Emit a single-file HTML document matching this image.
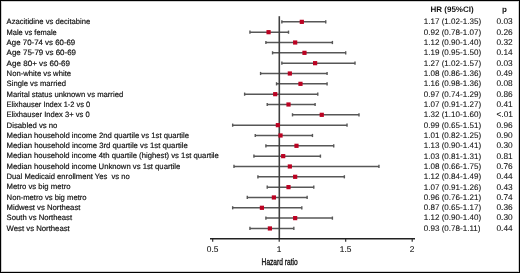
<!DOCTYPE html>
<html><head><meta charset="utf-8"><style>
html,body{margin:0;padding:0;background:#fff;}
body{-webkit-font-smoothing:antialiased;text-rendering:geometricPrecision;width:520px;height:273px;position:relative;overflow:hidden;font-family:"Liberation Sans",sans-serif;}
.frame{position:absolute;left:0;top:0;width:518px;height:271px;border:1px solid #000;box-shadow:inset 0 0 0 1px #d0d0d0;}
svg{position:absolute;left:0;top:0;will-change:transform;}
text{fill:#111;white-space:pre;}
.l{font-size:7.75px;stroke:#111;stroke-width:0.18px;}
.n{font-size:8.05px;stroke:#111;stroke-width:0.08px;}
.p{font-size:8.3px;}
.h{font-size:8px;font-weight:bold;}
.t{font-size:8.4px;text-anchor:middle;stroke:#111;stroke-width:0.08px;}
.x{font-size:9.4px;stroke:#111;stroke-width:0.35px;}
</style></head><body>
<div class="frame"></div>
<svg width="520" height="273" viewBox="0 0 520 273">
<line x1="281.86" y1="21.85" x2="325.75" y2="21.85" stroke="#575757" stroke-width="1.5"/>
<line x1="281.86" y1="20.25" x2="281.86" y2="23.45" stroke="#575757" stroke-width="1.4"/>
<line x1="325.75" y1="20.25" x2="325.75" y2="23.45" stroke="#575757" stroke-width="1.4"/>
<line x1="249.94" y1="32.18" x2="288.51" y2="32.18" stroke="#575757" stroke-width="1.5"/>
<line x1="249.94" y1="30.58" x2="249.94" y2="33.78" stroke="#575757" stroke-width="1.4"/>
<line x1="288.51" y1="30.58" x2="288.51" y2="33.78" stroke="#575757" stroke-width="1.4"/>
<line x1="265.90" y1="42.51" x2="332.40" y2="42.51" stroke="#575757" stroke-width="1.5"/>
<line x1="265.90" y1="40.91" x2="265.90" y2="44.11" stroke="#575757" stroke-width="1.4"/>
<line x1="332.40" y1="40.91" x2="332.40" y2="44.11" stroke="#575757" stroke-width="1.4"/>
<line x1="272.55" y1="52.84" x2="345.70" y2="52.84" stroke="#575757" stroke-width="1.5"/>
<line x1="272.55" y1="51.24" x2="272.55" y2="54.44" stroke="#575757" stroke-width="1.4"/>
<line x1="345.70" y1="51.24" x2="345.70" y2="54.44" stroke="#575757" stroke-width="1.4"/>
<line x1="281.86" y1="63.17" x2="355.01" y2="63.17" stroke="#575757" stroke-width="1.5"/>
<line x1="281.86" y1="61.57" x2="281.86" y2="64.77" stroke="#575757" stroke-width="1.4"/>
<line x1="355.01" y1="61.57" x2="355.01" y2="64.77" stroke="#575757" stroke-width="1.4"/>
<line x1="260.58" y1="73.50" x2="327.08" y2="73.50" stroke="#575757" stroke-width="1.5"/>
<line x1="260.58" y1="71.90" x2="260.58" y2="75.10" stroke="#575757" stroke-width="1.4"/>
<line x1="327.08" y1="71.90" x2="327.08" y2="75.10" stroke="#575757" stroke-width="1.4"/>
<line x1="276.54" y1="83.83" x2="327.08" y2="83.83" stroke="#575757" stroke-width="1.5"/>
<line x1="276.54" y1="82.23" x2="276.54" y2="85.43" stroke="#575757" stroke-width="1.4"/>
<line x1="327.08" y1="82.23" x2="327.08" y2="85.43" stroke="#575757" stroke-width="1.4"/>
<line x1="244.62" y1="94.16" x2="317.77" y2="94.16" stroke="#575757" stroke-width="1.5"/>
<line x1="244.62" y1="92.56" x2="244.62" y2="95.76" stroke="#575757" stroke-width="1.4"/>
<line x1="317.77" y1="92.56" x2="317.77" y2="95.76" stroke="#575757" stroke-width="1.4"/>
<line x1="267.23" y1="104.49" x2="315.11" y2="104.49" stroke="#575757" stroke-width="1.5"/>
<line x1="267.23" y1="102.89" x2="267.23" y2="106.09" stroke="#575757" stroke-width="1.4"/>
<line x1="315.11" y1="102.89" x2="315.11" y2="106.09" stroke="#575757" stroke-width="1.4"/>
<line x1="292.50" y1="114.82" x2="359.00" y2="114.82" stroke="#575757" stroke-width="1.5"/>
<line x1="292.50" y1="113.22" x2="292.50" y2="116.42" stroke="#575757" stroke-width="1.4"/>
<line x1="359.00" y1="113.22" x2="359.00" y2="116.42" stroke="#575757" stroke-width="1.4"/>
<line x1="232.65" y1="125.15" x2="347.03" y2="125.15" stroke="#575757" stroke-width="1.5"/>
<line x1="232.65" y1="123.55" x2="232.65" y2="126.75" stroke="#575757" stroke-width="1.4"/>
<line x1="347.03" y1="123.55" x2="347.03" y2="126.75" stroke="#575757" stroke-width="1.4"/>
<line x1="255.26" y1="135.48" x2="312.45" y2="135.48" stroke="#575757" stroke-width="1.5"/>
<line x1="255.26" y1="133.88" x2="255.26" y2="137.08" stroke="#575757" stroke-width="1.4"/>
<line x1="312.45" y1="133.88" x2="312.45" y2="137.08" stroke="#575757" stroke-width="1.4"/>
<line x1="265.90" y1="145.81" x2="333.73" y2="145.81" stroke="#575757" stroke-width="1.5"/>
<line x1="265.90" y1="144.21" x2="265.90" y2="147.41" stroke="#575757" stroke-width="1.4"/>
<line x1="333.73" y1="144.21" x2="333.73" y2="147.41" stroke="#575757" stroke-width="1.4"/>
<line x1="253.93" y1="156.14" x2="320.43" y2="156.14" stroke="#575757" stroke-width="1.5"/>
<line x1="253.93" y1="154.54" x2="253.93" y2="157.74" stroke="#575757" stroke-width="1.4"/>
<line x1="320.43" y1="154.54" x2="320.43" y2="157.74" stroke="#575757" stroke-width="1.4"/>
<line x1="233.98" y1="166.47" x2="378.95" y2="166.47" stroke="#575757" stroke-width="1.5"/>
<line x1="233.98" y1="164.87" x2="233.98" y2="168.07" stroke="#575757" stroke-width="1.4"/>
<line x1="378.95" y1="164.87" x2="378.95" y2="168.07" stroke="#575757" stroke-width="1.4"/>
<line x1="257.92" y1="176.80" x2="344.37" y2="176.80" stroke="#575757" stroke-width="1.5"/>
<line x1="257.92" y1="175.20" x2="257.92" y2="178.40" stroke="#575757" stroke-width="1.4"/>
<line x1="344.37" y1="175.20" x2="344.37" y2="178.40" stroke="#575757" stroke-width="1.4"/>
<line x1="267.23" y1="187.13" x2="313.78" y2="187.13" stroke="#575757" stroke-width="1.5"/>
<line x1="267.23" y1="185.53" x2="267.23" y2="188.73" stroke="#575757" stroke-width="1.4"/>
<line x1="313.78" y1="185.53" x2="313.78" y2="188.73" stroke="#575757" stroke-width="1.4"/>
<line x1="247.28" y1="197.46" x2="307.13" y2="197.46" stroke="#575757" stroke-width="1.5"/>
<line x1="247.28" y1="195.86" x2="247.28" y2="199.06" stroke="#575757" stroke-width="1.4"/>
<line x1="307.13" y1="195.86" x2="307.13" y2="199.06" stroke="#575757" stroke-width="1.4"/>
<line x1="232.65" y1="207.79" x2="301.81" y2="207.79" stroke="#575757" stroke-width="1.5"/>
<line x1="232.65" y1="206.19" x2="232.65" y2="209.39" stroke="#575757" stroke-width="1.4"/>
<line x1="301.81" y1="206.19" x2="301.81" y2="209.39" stroke="#575757" stroke-width="1.4"/>
<line x1="265.90" y1="218.12" x2="332.40" y2="218.12" stroke="#575757" stroke-width="1.5"/>
<line x1="265.90" y1="216.52" x2="265.90" y2="219.72" stroke="#575757" stroke-width="1.4"/>
<line x1="332.40" y1="216.52" x2="332.40" y2="219.72" stroke="#575757" stroke-width="1.4"/>
<line x1="249.94" y1="228.45" x2="293.83" y2="228.45" stroke="#575757" stroke-width="1.5"/>
<line x1="249.94" y1="226.85" x2="249.94" y2="230.05" stroke="#575757" stroke-width="1.4"/>
<line x1="293.83" y1="226.85" x2="293.83" y2="230.05" stroke="#575757" stroke-width="1.4"/>
<line x1="279.3" y1="16.2" x2="279.3" y2="238.7" stroke="#404040" stroke-width="1.6"/>
<rect x="299.71" y="19.75" width="4.2" height="4.2" fill="#bb0222"/>
<rect x="266.46" y="30.08" width="4.2" height="4.2" fill="#bb0222"/>
<rect x="293.06" y="40.41" width="4.2" height="4.2" fill="#bb0222"/>
<rect x="302.37" y="50.74" width="4.2" height="4.2" fill="#bb0222"/>
<rect x="313.01" y="61.07" width="4.2" height="4.2" fill="#bb0222"/>
<rect x="287.74" y="71.40" width="4.2" height="4.2" fill="#bb0222"/>
<rect x="298.38" y="81.73" width="4.2" height="4.2" fill="#bb0222"/>
<rect x="273.11" y="92.06" width="4.2" height="4.2" fill="#bb0222"/>
<rect x="286.41" y="102.39" width="4.2" height="4.2" fill="#bb0222"/>
<rect x="319.66" y="112.72" width="4.2" height="4.2" fill="#bb0222"/>
<rect x="275.77" y="123.05" width="4.2" height="4.2" fill="#bb0222"/>
<rect x="278.43" y="133.38" width="4.2" height="4.2" fill="#bb0222"/>
<rect x="294.39" y="143.71" width="4.2" height="4.2" fill="#bb0222"/>
<rect x="281.09" y="154.04" width="4.2" height="4.2" fill="#bb0222"/>
<rect x="287.74" y="164.37" width="4.2" height="4.2" fill="#bb0222"/>
<rect x="293.06" y="174.70" width="4.2" height="4.2" fill="#bb0222"/>
<rect x="286.41" y="185.03" width="4.2" height="4.2" fill="#bb0222"/>
<rect x="271.78" y="195.36" width="4.2" height="4.2" fill="#bb0222"/>
<rect x="259.81" y="205.69" width="4.2" height="4.2" fill="#bb0222"/>
<rect x="293.06" y="216.02" width="4.2" height="4.2" fill="#bb0222"/>
<rect x="267.79" y="226.35" width="4.2" height="4.2" fill="#bb0222"/>
<line x1="210" y1="238.7" x2="415" y2="238.7" stroke="#222" stroke-width="1.6"/>
<line x1="212.70" y1="238.7" x2="212.70" y2="241.8" stroke="#222" stroke-width="1.1"/>
<line x1="279.20" y1="238.7" x2="279.20" y2="241.8" stroke="#222" stroke-width="1.1"/>
<line x1="345.70" y1="238.7" x2="345.70" y2="241.8" stroke="#222" stroke-width="1.1"/>
<line x1="412.20" y1="238.7" x2="412.20" y2="241.8" stroke="#222" stroke-width="1.1"/>
<text class="l" transform="translate(6.6 24.30) scale(0.9854 1)">Azacitidine vs decitabine</text>
<text class="n" x="423.8" y="24.40">1.17 (1.02-1.35)</text>
<text class="n p" x="496.5" y="24.40">0.03</text>
<text class="l" transform="translate(6.6 34.62) scale(0.9618 1)">Male vs female</text>
<text class="n" x="423.8" y="34.72">0.92 (0.78-1.07)</text>
<text class="n p" x="496.5" y="34.72">0.26</text>
<text class="l" transform="translate(6.6 44.94) scale(1.0148 1)">Age 70-74 vs 60-69</text>
<text class="n" x="423.8" y="45.04">1.12 (0.90-1.40)</text>
<text class="n p" x="496.5" y="45.04">0.32</text>
<text class="l" transform="translate(6.6 55.26) scale(1.0260 1)">Age 75-79 vs 60-69</text>
<text class="n" x="423.8" y="55.36">1.19 (0.95-1.50)</text>
<text class="n p" x="496.5" y="55.36">0.14</text>
<text class="l" transform="translate(6.6 65.58) scale(1.0407 1)">Age 80+ vs 60-69</text>
<text class="n" x="423.8" y="65.68">1.27 (1.02-1.57)</text>
<text class="n p" x="496.5" y="65.68">0.03</text>
<text class="l" transform="translate(6.6 75.90) scale(0.9908 1)">Non-white vs white</text>
<text class="n" x="423.8" y="76.00">1.08 (0.86-1.36)</text>
<text class="n p" x="496.5" y="76.00">0.49</text>
<text class="l" transform="translate(6.6 86.22) scale(0.9916 1)">Single vs married</text>
<text class="n" x="423.8" y="86.32">1.16 (0.98-1.36)</text>
<text class="n p" x="496.5" y="86.32">0.08</text>
<text class="l" transform="translate(6.6 96.54) scale(0.9915 1)">Marital status unknown vs married</text>
<text class="n" x="423.8" y="96.64">0.97 (0.74-1.29)</text>
<text class="n p" x="496.5" y="96.64">0.86</text>
<text class="l" transform="translate(6.6 106.86) scale(0.9600 1)">Elixhauser Index 1-2 vs 0</text>
<text class="n" x="423.8" y="106.96">1.07 (0.91-1.27)</text>
<text class="n p" x="496.5" y="106.96">0.41</text>
<text class="l" transform="translate(6.6 117.18) scale(0.9822 1)">Elixhauser Index 3+ vs 0</text>
<text class="n" x="423.8" y="117.28">1.32 (1.10-1.60)</text>
<text class="n p" x="496.5" y="117.28">&lt;.01</text>
<text class="l" transform="translate(6.6 127.50) scale(1.0000 1)">Disabled vs no</text>
<text class="n" x="423.8" y="127.60">0.99 (0.65-1.51)</text>
<text class="n p" x="496.5" y="127.60">0.96</text>
<text class="l" transform="translate(6.6 137.82) scale(0.9962 1)">Median household income 2nd quartile vs 1st quartile</text>
<text class="n" x="423.8" y="137.92">1.01 (0.82-1.25)</text>
<text class="n p" x="496.5" y="137.92">0.90</text>
<text class="l" transform="translate(6.6 148.14) scale(0.9994 1)">Median household income 3rd quartile vs 1st quartile</text>
<text class="n" x="423.8" y="148.24">1.13 (0.90-1.41)</text>
<text class="n p" x="496.5" y="148.24">0.30</text>
<text class="l" transform="translate(6.6 158.46) scale(0.9953 1)">Median household income 4th quartile (highest) vs 1st quartile</text>
<text class="n" x="423.8" y="158.56">1.03 (0.81-1.31)</text>
<text class="n p" x="496.5" y="158.56">0.81</text>
<text class="l" transform="translate(6.6 168.78) scale(0.9932 1)">Median household income Unknown vs 1st quartile</text>
<text class="n" x="423.8" y="168.88">1.08 (0.66-1.75)</text>
<text class="n p" x="496.5" y="168.88">0.76</text>
<text class="l" transform="translate(6.6 179.10) scale(0.9856 1)">Dual Medicaid enrollment Yes  vs no</text>
<text class="n" x="423.8" y="179.20">1.12 (0.84-1.49)</text>
<text class="n p" x="496.5" y="179.20">0.44</text>
<text class="l" transform="translate(6.6 189.42) scale(0.9961 1)">Metro vs big metro</text>
<text class="n" x="423.8" y="189.52">1.07 (0.91-1.26)</text>
<text class="n p" x="496.5" y="189.52">0.43</text>
<text class="l" transform="translate(6.6 199.74) scale(0.9877 1)">Non-metro vs big metro</text>
<text class="n" x="423.8" y="199.84">0.96 (0.76-1.21)</text>
<text class="n p" x="496.5" y="199.84">0.74</text>
<text class="l" transform="translate(6.6 210.06) scale(0.9966 1)">Midwest vs Northeast</text>
<text class="n" x="423.8" y="210.16">0.87 (0.65-1.17)</text>
<text class="n p" x="496.5" y="210.16">0.36</text>
<text class="l" transform="translate(6.6 220.38) scale(0.9925 1)">South vs Northeast</text>
<text class="n" x="423.8" y="220.48">1.12 (0.90-1.40)</text>
<text class="n p" x="496.5" y="220.48">0.30</text>
<text class="l" transform="translate(6.6 230.70) scale(1.0000 1)">West vs Northeast</text>
<text class="n" x="423.8" y="230.80">0.93 (0.78-1.11)</text>
<text class="n p" x="496.5" y="230.80">0.44</text>
<text class="h" x="430.5" y="12.2">HR (95%CI)</text>
<text class="h" x="502" y="12.2">p</text>
<text class="t" x="212.70" y="251.9">0.5</text>
<text class="t" x="279.20" y="251.9">1</text>
<text class="t" x="345.70" y="251.9">1.5</text>
<text class="t" x="412.20" y="251.9">2</text>
<text class="x" transform="translate(261.6 265) scale(0.706 1)" x="0" y="0">Hazard ratio</text>
</svg>
</body></html>
